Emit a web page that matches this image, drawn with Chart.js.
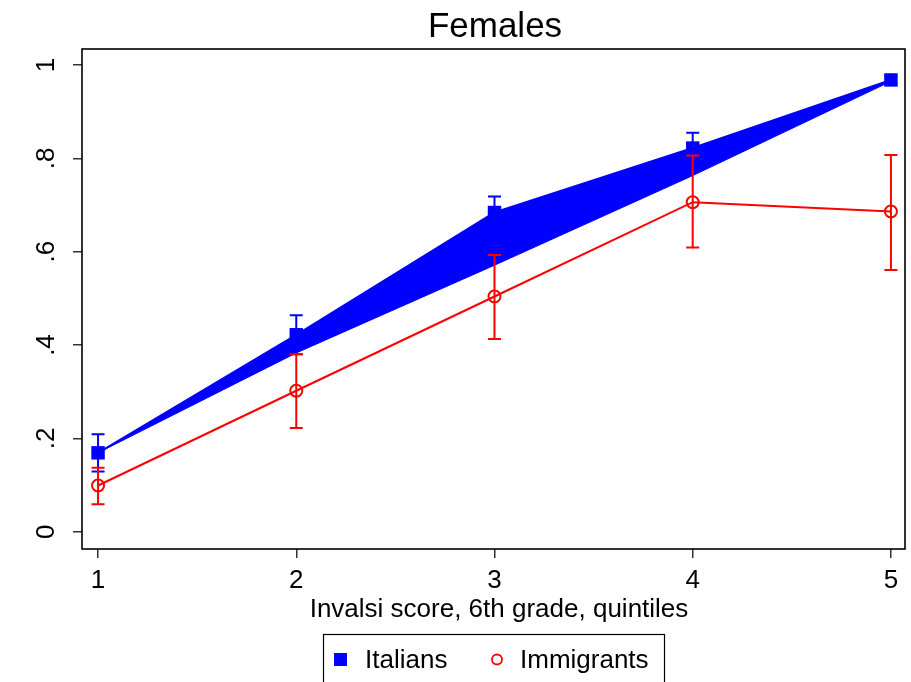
<!DOCTYPE html>
<html><head><meta charset="utf-8">
<script src="https://cdn.jsdelivr.net/npm/chart.js@4.4.1/dist/chart.umd.min.js"></script>
<style>html,body{margin:0;padding:0;background:#fff;} canvas{display:block;}</style>
</head><body>
<canvas id="c" width="911" height="682"></canvas>
<script>
const chartTitle = 'Females';
const xAxisTitle = 'Invalsi score, 6th grade, quintiles';
const seriesNames = ['Italians', 'Immigrants'];
const quintiles = [1, 2, 3, 4, 5];
const italians = [0.169, 0.422, 0.684, 0.822, 0.968];
const italiansLow = [0.129, 0.380, 0.640, 0.786, 0.960];
const italiansHigh = [0.209, 0.464, 0.718, 0.855, 0.976];
const italiansBandLow = [0.169, 0.383, 0.571, 0.763, 0.965];
const immigrants = [0.099, 0.302, 0.504, 0.706, 0.686];
const immigrantsLow = [0.059, 0.222, 0.413, 0.609, 0.561];
const immigrantsHigh = [0.137, 0.380, 0.593, 0.806, 0.807];
const xTicks = [1, 2, 3, 4, 5];
const xTickLabels = ['1', '2', '3', '4', '5'];
const yTicks = [0, 0.2, 0.4, 0.6, 0.8, 1];
const yTickLabels = ['0', '.2', '.4', '.6', '.8', '1'];

const FONT = "'Liberation Sans', Arial, sans-serif";
const BLUE = '#0000ff';
const RED = '#ff0000';

const pts = arr => quintiles.map((q, i) => ({ x: q, y: arr[i] }));
const errorData = { 0: [immigrantsLow, immigrantsHigh], 1: [italiansLow, italiansHigh] };

const errorBars = {
  id: 'errorBars',
  afterDatasetDraw(chart, args) {
    const e = errorData[args.index];
    if (!e) return;
    const ds = chart.data.datasets[args.index];
    const { ctx, scales: { x, y } } = chart;
    ctx.save();
    ctx.strokeStyle = ds.borderColor;
    ctx.lineWidth = 2;
    quintiles.forEach((q, i) => {
      const px = x.getPixelForValue(q);
      const lo = y.getPixelForValue(e[0][i]);
      const hi = y.getPixelForValue(e[1][i]);
      ctx.beginPath();
      ctx.moveTo(px, lo); ctx.lineTo(px, hi);
      ctx.moveTo(px - 6.5, lo); ctx.lineTo(px + 6.5, lo);
      ctx.moveTo(px - 6.5, hi); ctx.lineTo(px + 6.5, hi);
      ctx.stroke();
    });
    ctx.restore();
  }
};

const decor = {
  id: 'decor',
  beforeDraw(chart) {
    const ctx = chart.ctx;
    ctx.save();
    ctx.fillStyle = '#fff';
    ctx.fillRect(0, 0, chart.width, chart.height);
    ctx.restore();
  },
  afterDraw(chart) {
    const { ctx, chartArea: a } = chart;
    ctx.save();
    // plot frame
    ctx.strokeStyle = '#000';
    ctx.lineWidth = 1.6;
    ctx.strokeRect(a.left, a.top, a.right - a.left, a.bottom - a.top);
    // title
    ctx.fillStyle = '#000';
    ctx.textAlign = 'center';
    ctx.textBaseline = 'alphabetic';
    ctx.font = '35px ' + FONT;
    ctx.fillText(chartTitle, 495, 37);
    // x axis title
    ctx.font = '26px ' + FONT;
    ctx.fillText(xAxisTitle, 499, 617);
    // legend
    ctx.lineWidth = 1.2;
    ctx.strokeStyle = '#000';
    ctx.strokeRect(323.5, 634.5, 341, 60);
    ctx.fillStyle = BLUE;
    ctx.fillRect(334, 653, 13, 13);
    ctx.beginPath();
    ctx.strokeStyle = RED;
    ctx.lineWidth = 1.8;
    ctx.arc(497, 659.5, 5, 0, Math.PI * 2);
    ctx.stroke();
    ctx.fillStyle = '#000';
    ctx.textAlign = 'left';
    ctx.fillText(seriesNames[0], 365, 668);
    ctx.fillText(seriesNames[1], 520, 668);
    ctx.restore();
  }
};

new Chart(document.getElementById('c'), {
  type: 'line',
  data: {
    datasets: [
      {
        label: seriesNames[1], data: pts(immigrants), borderColor: RED, backgroundColor: 'rgba(0,0,0,0)',
        borderWidth: 2, pointStyle: 'circle', pointRadius: 6, pointBorderWidth: 2, pointBorderColor: RED,
        pointBackgroundColor: 'rgba(0,0,0,0)', fill: false, tension: 0
      },
      {
        label: seriesNames[0], data: pts(italians), borderColor: BLUE, backgroundColor: BLUE, borderWidth: 2,
        pointStyle: 'rect', pointRadius: 9.5, pointBorderWidth: 0, pointBackgroundColor: BLUE,
        fill: { target: 2, above: BLUE, below: BLUE }, tension: 0
      },
      {
        label: 'band', data: pts(italiansBandLow), borderColor: BLUE, backgroundColor: BLUE, borderWidth: 1,
        pointRadius: 0, fill: false, tension: 0
      }
    ]
  },
  options: {
    responsive: false,
    animation: false,
    events: [],
    layout: { autoPadding: false, padding: { top: 49, right: 6, left: 0, bottom: 0 } },
    plugins: { legend: { display: false }, title: { display: false }, tooltip: { enabled: false } },
    scales: {
      x: {
        type: 'linear', min: 0.919, max: 5.071,
        afterBuildTicks: s => { s.ticks = xTicks.map(v => ({ value: v })); },
        afterFit: s => { s.height = 133; s.paddingRight = 0; s.paddingLeft = 0; },
        ticks: { callback: (v, i) => xTickLabels[i], font: { family: FONT, size: 26 }, color: '#000', padding: 7, autoSkip: false, maxRotation: 0, minRotation: 0 },
        grid: { drawOnChartArea: false, drawTicks: true, tickLength: 9, color: '#333', lineWidth: 1.5 },
        border: { display: false }
      },
      y: {
        type: 'linear', min: -0.0371, max: 1.0343,
        afterBuildTicks: s => { s.ticks = yTicks.map(v => ({ value: v })); },
        afterFit: s => { s.width = 82; },
        ticks: { callback: (v, i) => yTickLabels[i], font: { family: FONT, size: 26 }, color: '#000', padding: 15, minRotation: 90, maxRotation: 90, crossAlign: 'center', autoSkip: false },
        grid: { drawOnChartArea: false, drawTicks: true, tickLength: 9, color: '#333', lineWidth: 1.5 },
        border: { display: false }
      }
    }
  },
  plugins: [decor, errorBars]
});
</script>
</body></html>
